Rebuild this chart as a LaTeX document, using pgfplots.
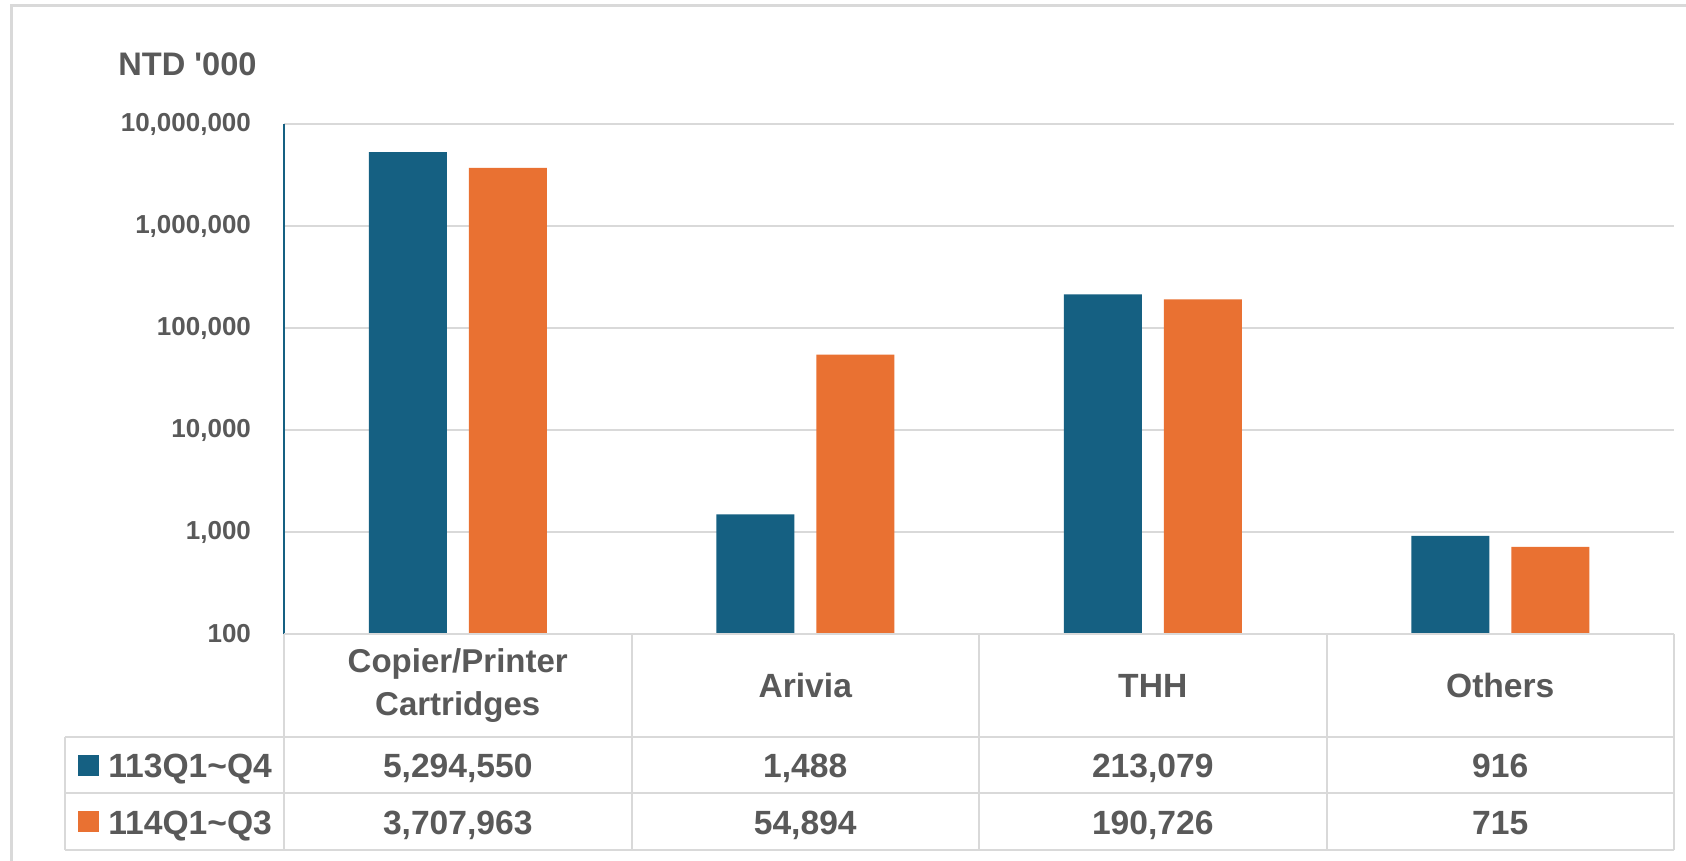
\documentclass[border=0pt]{standalone}
\usepackage{pgfplots}
\pgfplotsset{compat=1.18}
\usepackage{fontspec}
\setmainfont{Liberation Sans}

\definecolor{barblue}{HTML}{156082}
\definecolor{barorange}{HTML}{E97132}
\definecolor{txtgray}{HTML}{595959}
\definecolor{linegray}{HTML}{D9D9D9}

\begin{document}
\begin{tikzpicture}
% page = 1686 x 861 px, 1 px = 0.5pt
\begin{scope}[x=0.5pt,y=-0.5pt]
  \path[use as bounding box] (0,0) rectangle (1686,861);
  \fill[white] (0,0) rectangle (1686,861);
  \draw[linegray, line width=1.5pt] (11,870) -- (11,6) -- (1690,6);
\end{scope}

\begin{axis}[
	at={(142pt,-317pt)}, anchor=south west,
	scale only axis,
	width=695pt, height=255pt,
	ymode=log, log origin=infty,
	ymin=100, ymax=10000000,
	xmin=-0.5, xmax=3.5,
	ybar=11pt, bar width=39pt,
	xtick=\empty,
	ytick={100,1000,10000,100000,1000000,10000000},
	yticklabels={100,{1,000},{10,000},{100,000},{1,000,000},{10,000,000}},
	yticklabel style={font=\fontsize{13}{15}\selectfont\bfseries, text=txtgray, xshift=-13pt},
	yminorticks=false,
	major tick length=0pt, minor tick length=0pt,
	ymajorgrids, grid style={linegray, line width=1pt},
	axis line style={draw=none},
	axis y line*=left,
	axis x line=none,
	clip=false,
]
\addplot[fill=barblue, draw=none] coordinates {(0,5294550) (1,1488) (2,213079) (3,916)};
\addplot[fill=barorange, draw=none] coordinates {(0,3707963) (1,54894) (2,190726) (3,715)};
\draw[barblue, line width=1.2pt] (rel axis cs:0,0) -- (rel axis cs:0,1);
\end{axis}

\begin{scope}[x=0.5pt,y=-0.5pt, every node/.style={text=txtgray, font=\fontsize{16.8}{20}\selectfont\bfseries, anchor=base, inner sep=0pt}]
  % data table grid
  \draw[linegray, line width=1pt] (284,634) -- (1674,634);
  \foreach \yy in {737,793,850} \draw[linegray, line width=1pt] (65,\yy) -- (1674,\yy);
  \foreach \xx in {284,631.5,979,1326.5,1674} \draw[linegray, line width=1pt] (\xx,634) -- (\xx,850);
  \draw[linegray, line width=1pt] (65,737) -- (65,850);
  % category names
  \node[font=\fontsize{16.5}{21.5}\selectfont\bfseries, align=center, anchor=center] at (457.75,686) {Copier/Printer\\Cartridges};
  \node at (805.25,697) {Arivia};
  \node at (1152.75,697) {THH};
  \node at (1500.25,697) {Others};
  % legend keys
  \fill[barblue] (78,755) rectangle (99,776);
  \fill[barorange] (78,811) rectangle (99,832);
  \node[anchor=base west] at (108,777) {113Q1\textasciitilde Q4};
  \node[anchor=base west] at (108,834) {114Q1\textasciitilde Q3};
  % values
  \node at (457.75,777) {5,294,550};
  \node at (805.25,777) {1,488};
  \node at (1152.75,777) {213,079};
  \node at (1500.25,777) {916};
  \node at (457.75,834) {3,707,963};
  \node at (805.25,834) {54,894};
  \node at (1152.75,834) {190,726};
  \node at (1500.25,834) {715};
  % unit label
  \node[anchor=base west, font=\fontsize{16.3}{20}\selectfont\bfseries] at (118,76) {NTD \textquotesingle 000};
\end{scope}
\end{tikzpicture}
\end{document}
